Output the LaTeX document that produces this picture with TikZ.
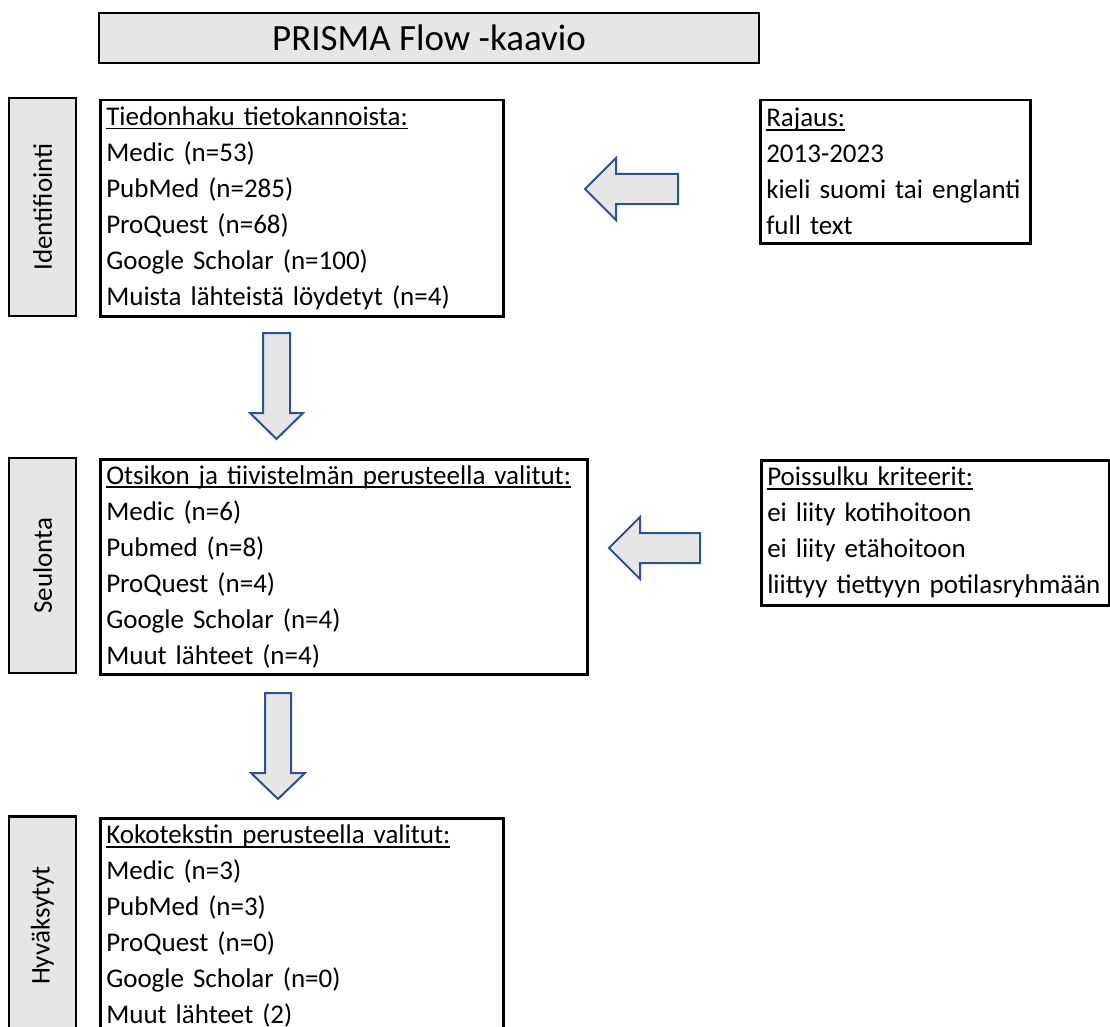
\documentclass[tikz,border=0pt]{standalone}
\usepackage{fontspec}
\setmainfont{Carlito}
\definecolor{boxgray}{HTML}{E7E6E6}
\definecolor{arrowblue}{HTML}{2F528F}
\newcommand{\headln}[1]{\setbox0\hbox{#1}\rlap{\rule[-4pt]{\wd0}{1.8pt}}\box0}

\begin{document}
\begin{tikzpicture}[x=1pt, y=-1pt,
          every node/.style={font=\fontsize{27}{36}\selectfont},
          titlebox/.style={draw, line width=2.5pt, fill=boxgray, minimum width=660pt, minimum height=50pt,
                           font=\fontsize{37}{44}\selectfont},
          stage/.style={draw, line width=2.5pt, fill=boxgray, rotate=90, minimum height=67pt, inner sep=0pt},
          listbox/.style={draw, line width=2.5pt, anchor=north west, align=left, inner xsep=6pt, inner ysep=0pt},
          blockarr/.style={draw=arrowblue, fill=boxgray, line width=2pt, line join=miter},
        ]
          \useasboundingbox (0,0) rectangle (1110,1027);

          %% title
          \node[titlebox] (title) at (429,38) {PRISMA Flow -kaavio};

          %% left column — phases
          \node[stage, minimum width=218pt] (ident) at (42.5,207)   {Identifiointi};
          \node[stage, minimum width=215pt] (seul)  at (42.5,565.5) {Seulonta};
          \node[stage, minimum width=218pt] (hyv)   at (42.5,925.5) {Hyväksytyt};

          %% centre column — records
          \node[listbox, text width=391pt, minimum height=216pt] (haku) at (99,99)
            {\headln{Tiedonhaku tietokannoista:}\\
             Medic (n=53)\\
             PubMed (n=285)\\
             ProQuest (n=68)\\
             Google Scholar (n=100)\\
             Muista lähteistä löydetyt (n=4)};
          \node[listbox, text width=475pt, minimum height=215pt] (seulottu) at (99,458)
            {\headln{Otsikon ja tiivistelmän perusteella valitut:}\\
             Medic (n=6)\\
             Pubmed (n=8)\\
             ProQuest (n=4)\\
             Google Scholar (n=4)\\
             Muut lähteet (n=4)};
          \node[listbox, text width=391pt, minimum height=216pt] (valitut) at (99,817)
            {\headln{Kokotekstin perusteella valitut:}\\
             Medic (n=3)\\
             PubMed (n=3)\\
             ProQuest (n=0)\\
             Google Scholar (n=0)\\
             Muut lähteet (2)};

          %% right column — criteria
          \node[listbox, text width=258pt, minimum height=143pt] (rajaus) at (759,99)
            {\headln{Rajaus:}\\
             2013-2023\\
             kieli suomi tai englanti\\
             full text};
          \node[listbox, text width=336pt, minimum height=145pt] (poissulku) at (760,459)
            {\headln{Poissulku kriteerit:}\\
             ei liity kotihoitoon\\
             ei liity etähoitoon\\
             liittyy tiettyyn potilasryhmään};

          %% block arrows — criteria into records
          \draw[blockarr] (585,189) -- (616,158) -- (616,174) -- (678,174)
                          -- (678,204) -- (616,204) -- (616,220) -- cycle;
          \draw[blockarr] (609,548) -- (640,517) -- (640,533) -- (700,533)
                          -- (700,563) -- (640,563) -- (640,579) -- cycle;

          %% block arrows — down the flow
          \draw[blockarr] (263,333) -- (290,333) -- (290,413) -- (303,413)
                          -- (276.5,439) -- (250,413) -- (263,413) -- cycle;
          \draw[blockarr] (265,693) -- (291,693) -- (291,773) -- (305,773)
                          -- (278,799) -- (251,773) -- (265,773) -- cycle;
        \end{tikzpicture}
\end{document}
